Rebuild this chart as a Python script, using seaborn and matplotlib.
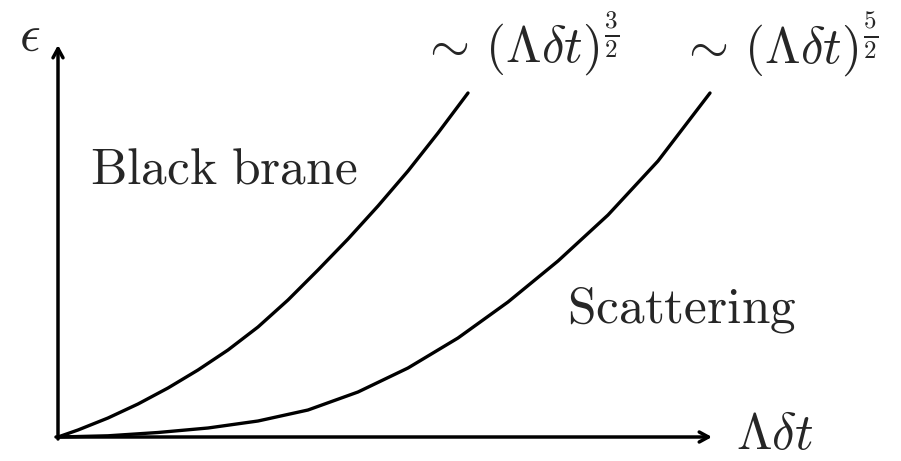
import matplotlib
matplotlib.use("Agg")
import matplotlib.pyplot as plt
import seaborn as sns
import pandas as pd

sns.set_theme(style="white")
plt.rcParams["mathtext.fontset"] = "cm"

# Black brane curve, ~ (Λδt)^{3/2}
bb_x = [0.0, 0.2, 0.5, 0.8, 1.1, 1.4, 1.7, 2.0, 2.3, 2.6, 2.9, 3.2, 3.5, 3.8, 4.1]
bb_y = [0.0, 0.07, 0.19, 0.33, 0.49, 0.67, 0.87, 1.10, 1.37, 1.67, 1.98, 2.31, 2.66, 3.04, 3.44]

# Scattering curve, ~ (Λδt)^{5/2}
sc_x = [0.0, 0.5, 1.0, 1.5, 2.0, 2.5, 3.0, 3.5, 4.0, 4.5, 5.0, 5.5, 6.0, 6.52]
sc_y = [0.0, 0.012, 0.045, 0.09, 0.16, 0.27, 0.45, 0.69, 0.99, 1.35, 1.76, 2.22, 2.76, 3.44]

x_label = r"$\Lambda\delta t$"
y_label = r"$\epsilon$"
curve_labels = [r"$\mathrm{Black\ brane}$", r"$\mathrm{Scattering}$"]
scaling_labels = [r"$\sim\,(\Lambda\delta t)^{\frac{3}{2}}$", r"$\sim\,(\Lambda\delta t)^{\frac{5}{2}}$"]

df = pd.concat([
    pd.DataFrame({"x": bb_x, "y": bb_y, "curve": "Black brane"}),
    pd.DataFrame({"x": sc_x, "y": sc_y, "curve": "Scattering"}),
])

fig = plt.figure(figsize=(9.01, 4.61), dpi=100)
ax = fig.add_axes([0, 0, 1, 1])
sns.lineplot(data=df, x="x", y="y", units="curve", estimator=None, sort=False,
             color="black", lw=2.4, ax=ax, legend=False)

ax.set_xlim(-0.58, 8.43)
ax.set_ylim(-0.24, 4.37)
ax.axis("off")

arrow = dict(arrowstyle="->,head_length=0.55,head_width=0.3", lw=2.5, color="black",
             shrinkA=0, shrinkB=0)
ax.annotate("", xy=(6.54, 0), xytext=(-0.02, 0), arrowprops=arrow)
ax.annotate("", xy=(0, 3.92), xytext=(0, -0.02), arrowprops=arrow)

fs = 37
ax.text(6.78, -0.12, x_label, fontsize=fs, ha="left", va="baseline")
ax.text(-0.28, 3.86, y_label, fontsize=fs, ha="center", va="baseline")
ax.text(0.32, 2.54, curve_labels[0], fontsize=fs, ha="left", va="baseline")
ax.text(5.09, 1.15, curve_labels[1], fontsize=fs, ha="left", va="baseline")
ax.text(3.62, 3.74, scaling_labels[0], fontsize=fs, ha="left", va="baseline")
ax.text(6.21, 3.74, scaling_labels[1], fontsize=fs, ha="left", va="baseline")

fig.savefig("out.png", dpi=100, facecolor="white")
